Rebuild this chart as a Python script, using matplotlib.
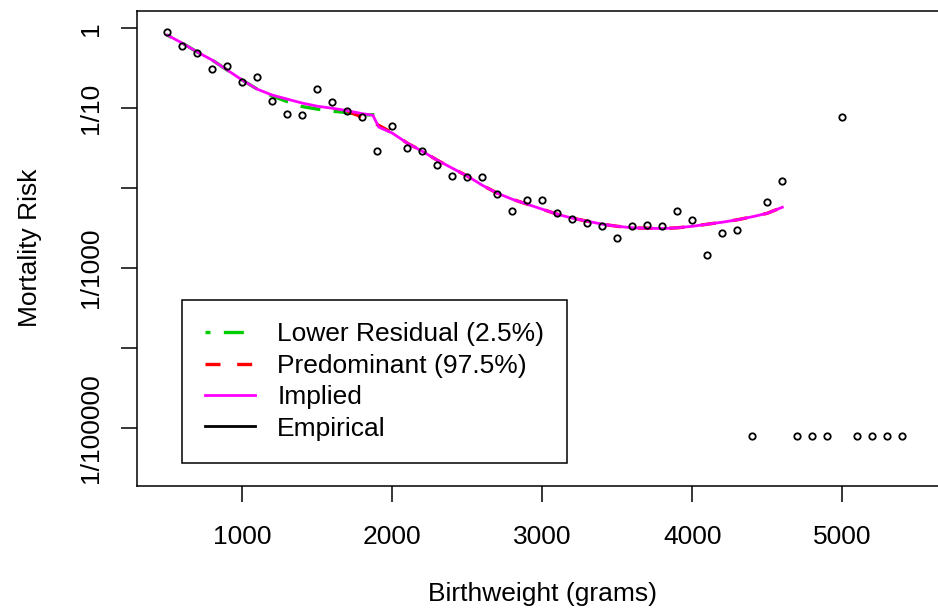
import matplotlib
matplotlib.use("Agg")
import matplotlib.pyplot as plt
from matplotlib.lines import Line2D
import numpy as np

plt.rcParams['font.family'] = ['Liberation Sans', 'DejaVu Sans']

# empirical mortality by 100 g bin (zero-death bins shown at the floor value)
emp_weight = [500, 600, 700, 800, 900, 1000, 1100, 1200, 1300, 1400,
              1500, 1600, 1700, 1800, 1900, 2000, 2100, 2200, 2300, 2400,
              2500, 2600, 2700, 2800, 2900, 3000, 3100, 3200, 3300, 3400,
              3500, 3600, 3700, 3800, 3900, 4000, 4100, 4200, 4300, 4400,
              4500, 4600, 4700, 4800, 4900, 5000, 5100, 5200, 5300, 5400]
emp_risk = [0.90, 0.594, 0.485, 0.308, 0.336, 0.216, 0.243, 0.125, 0.0844, 0.0827,
            0.172, 0.120, 0.0927, 0.0767, 0.0293, 0.0592, 0.0317, 0.0296, 0.0198, 0.0143,
            0.0140, 0.0140, 0.0084, 0.0052, 0.00714, 0.00714, 0.00486, 0.00417, 0.00372, 0.00337,
            0.00237, 0.00334, 0.00347, 0.00341, 0.00526, 0.00398, 0.00146, 0.00279, 0.00304, 8e-6,
            0.00674, 0.01224, 8e-6, 8e-6, 8e-6, 0.0774, 8e-6, 8e-6, 8e-6, 8e-6]

# lower residual component (2.5%)
low_weight = [500, 600, 700, 800, 900, 1000, 1100, 1200, 1300, 1400,
              1500, 1600, 1700, 1800, 1880]
low_risk = [0.822, 0.653, 0.504, 0.400, 0.300, 0.225, 0.173, 0.142, 0.121, 0.105,
            0.0975, 0.092, 0.0881, 0.082, 0.0832]

# predominant component (97.5%)
pred_weight = [1700, 1800, 1900, 2000, 2100, 2200, 2300, 2400, 2500, 2600,
               2700, 2800, 2900, 3000, 3100, 3200, 3300, 3400, 3500, 3600,
               3700, 3800, 3900, 4000, 4100, 4200, 4300, 4400, 4500, 4600]
pred_risk = [0.0920, 0.0772, 0.0624, 0.0494, 0.0366, 0.0290, 0.0224, 0.0178, 0.0142, 0.0109,
             0.00867, 0.00728, 0.00631, 0.00546, 0.00473, 0.00422, 0.00387, 0.00355, 0.00334, 0.00320,
             0.00316, 0.00313, 0.00320, 0.00334, 0.00355, 0.00376, 0.00403, 0.00440, 0.00486, 0.00578]

# implied mixture curve
imp_weight = [500, 600, 700, 800, 900, 1000, 1100, 1200, 1300, 1400,
              1500, 1600, 1700, 1800, 1870, 1910, 2000, 2100, 2200, 2300,
              2400, 2500, 2600, 2700, 2800, 2900, 3000, 3100, 3200, 3300,
              3400, 3500, 3600, 3700, 3800, 3900, 4000, 4100, 4200, 4300,
              4400, 4500, 4600]
imp_risk = [0.822, 0.653, 0.504, 0.400, 0.300, 0.225, 0.173, 0.146, 0.130, 0.116,
            0.106, 0.100, 0.0933, 0.0856, 0.0819, 0.0581, 0.0489, 0.0366, 0.0290, 0.0224,
            0.0178, 0.0142, 0.0109, 0.00867, 0.00728, 0.00631, 0.00546, 0.00473, 0.00422, 0.00387,
            0.00355, 0.00334, 0.00320, 0.00316, 0.00313, 0.00320, 0.00334, 0.00355, 0.00376, 0.00403,
            0.00440, 0.00486, 0.00578]

y_ticks = [1, 1e-1, 1e-2, 1e-3, 1e-4, 1e-5]
y_labels = ['1', '1/10', '', '1/1000', '', '1/100000']
x_ticks = [1000, 2000, 3000, 4000, 5000]

W, H = 938, 613
FS = 19
fig = plt.figure(figsize=(W / 100, H / 100), dpi=100)
ax = fig.add_axes([137.3 / W, 1 - 485.7 / H, (947.3 - 137.3) / W, (485.7 - 10.7) / H])

ax.plot(low_weight, low_risk, color='#00CD00', lw=2.4, linestyle=(4.5, (6, 4)))
ax.plot(pred_weight, pred_risk, color='#FF0000', lw=2.4, linestyle=(0, (4.5, 5)))
ax.plot(imp_weight, imp_risk, color='#FF00FF', lw=2.0)
ax.plot(emp_weight, emp_risk, linestyle='none', marker='o', markersize=4.6,
        markerfacecolor='none', markeredgecolor='black', markeredgewidth=1.3)

ax.set_yscale('log')
ax.set_xlim(300, 5700)
ax.set_ylim(10 ** -5.72, 10 ** 0.22)
ax.set_xticks(x_ticks)
ax.set_xticklabels([str(t) for t in x_ticks])
ax.set_yticks(y_ticks)
ax.set_yticklabels(y_labels)
ax.yaxis.set_minor_locator(matplotlib.ticker.NullLocator())
ax.tick_params(axis='both', length=11.5, width=1.1, labelsize=FS)
ax.tick_params(axis='x', pad=16.5)
ax.tick_params(axis='y', labelrotation=90, pad=13)
for lab in ax.get_yticklabels():
    lab.set_va('center')
for s in ax.spines.values():
    s.set_linewidth(1.1)

ax.set_xlabel('Birthweight (grams)', fontsize=FS, labelpad=24)
ax.set_ylabel('Mortality Risk', fontsize=FS, labelpad=27)

handles = [Line2D([], [], color='#00CD00', lw=2.4, linestyle=(4.5, (6, 4))),
           Line2D([], [], color='#FF0000', lw=2.4, linestyle=(0, (4.5, 5))),
           Line2D([], [], color='#FF00FF', lw=2.0),
           Line2D([], [], color='black', lw=2.0)]
names = ['Lower Residual (2.5%)', 'Predominant (97.5%)', 'Implied', 'Empirical']
leg = ax.legend(handles, names, loc='upper left',
                bbox_to_anchor=(182.3 / W, 1 - 300 / H), bbox_transform=fig.transFigure,
                borderaxespad=0, borderpad=0.85, handlelength=1.9, handletextpad=0.85,
                labelspacing=0.28, fontsize=FS, fancybox=False, framealpha=1)
leg.get_frame().set_edgecolor('black')
leg.get_frame().set_linewidth(1.1)

fig.savefig('out.png', dpi=100)
